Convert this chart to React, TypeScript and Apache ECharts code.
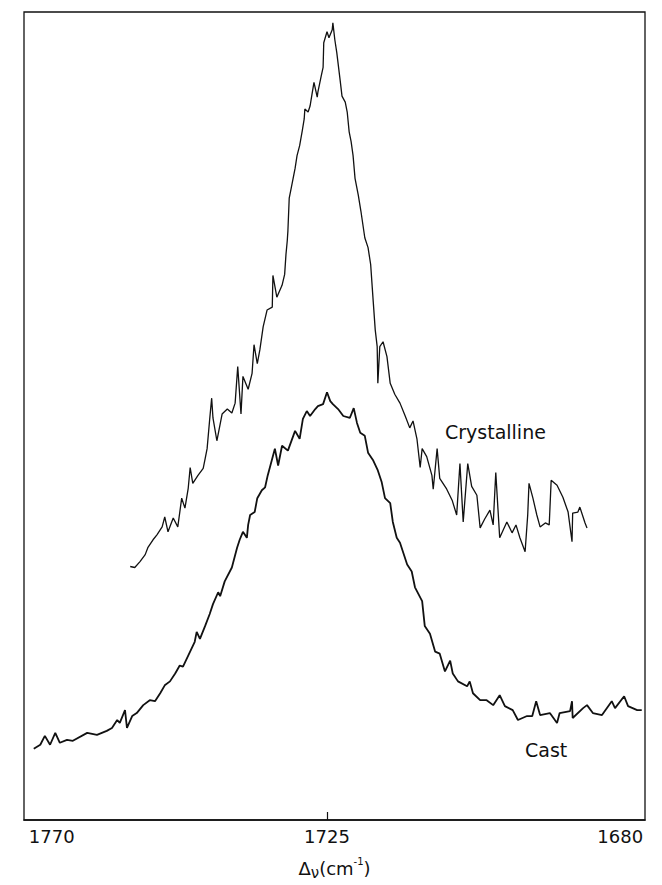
import React, { useEffect, useRef } from "react";
import * as echarts from "echarts";

// Wavenumber (cm^-1) and relative intensity (arbitrary units)
const castWavenumber = [
  1770.0, 1769.0, 1768.3, 1767.5, 1766.7, 1766.0, 1764.9, 1764.0, 1761.8, 1760.3,
  1758.8, 1758.0, 1757.2, 1756.8, 1756.0, 1755.7, 1754.9, 1754.2, 1753.2, 1752.2,
  1751.4, 1750.6, 1749.9, 1749.1, 1748.3, 1747.6, 1747.1, 1746.3, 1745.3, 1745.0,
  1744.5, 1743.7, 1743.0, 1742.5, 1741.7, 1741.4, 1740.7, 1739.6, 1738.8, 1738.4,
  1737.9, 1737.3, 1737.1, 1736.8, 1736.1, 1735.7, 1735.0, 1734.5, 1734.1, 1733.4,
  1733.0, 1732.5, 1731.9, 1731.0, 1729.9, 1729.2, 1728.7, 1728.1, 1727.6, 1726.8,
  1726.4, 1725.6, 1725.0, 1724.5, 1724.1, 1723.3, 1722.5, 1721.5, 1720.9, 1720.4,
  1719.9, 1719.2, 1718.7, 1717.9, 1717.2, 1716.6, 1716.1, 1715.3, 1714.9, 1714.3,
  1713.8, 1712.7, 1712.0, 1711.5, 1710.4, 1710.0, 1709.2, 1708.4, 1707.7, 1706.9,
  1706.1, 1705.7, 1704.9, 1703.5, 1703.1, 1702.6, 1701.5, 1700.5, 1699.5, 1698.5,
  1697.7, 1696.5, 1695.7, 1694.3, 1693.5, 1692.9, 1692.3, 1690.8, 1689.7, 1689.3,
  1687.7, 1687.4, 1687.3, 1685.7, 1685.1, 1684.2, 1682.8, 1681.3, 1680.8, 1679.4,
  1678.8, 1677.4, 1676.7,
];
const castIntensity = [
  72, 76, 85, 76, 88, 78, 81, 80, 88, 86,
  90, 93, 101, 98, 111, 93, 105, 108, 116, 121,
  120, 128, 136, 140, 148, 156, 155, 166, 180, 190,
  183, 196, 208, 218, 230, 226, 241, 255, 275, 283,
  291, 285, 298, 308, 311, 325, 333, 336, 348, 365,
  375, 358, 378, 373, 393, 385, 405, 413, 408, 415,
  418, 420, 432, 423, 420, 415, 408, 406, 416, 401,
  391, 388, 371, 363, 353, 341, 325, 320, 301, 285,
  280, 258, 251, 235, 221, 196, 188, 170, 168, 150,
  161, 148, 140, 135, 140, 128, 121, 121, 116, 126,
  115, 111, 101, 105, 105, 120, 106, 108, 98, 108,
  110, 120, 103, 113, 116, 108, 106, 120, 113, 125,
  115, 111, 111,
];

const crystWavenumber = [
  1755.2, 1754.5, 1753.7, 1752.9, 1752.5, 1751.7, 1751.1, 1750.3, 1749.9, 1749.4,
  1748.6, 1747.9, 1747.3, 1746.8, 1746.3, 1746.0, 1745.6, 1744.8, 1744.0, 1743.7,
  1743.4, 1743.0, 1742.7, 1742.5, 1741.9, 1741.1, 1740.3, 1739.6, 1739.1, 1738.7,
  1738.2, 1737.9, 1737.1, 1736.5, 1736.2, 1735.7, 1735.3, 1734.8, 1734.2, 1733.4,
  1733.3, 1732.7, 1731.9, 1731.5, 1731.3, 1731.1, 1731.0, 1730.8, 1730.5, 1730.2,
  1729.9, 1729.6, 1729.2, 1728.8, 1728.5, 1728.4, 1727.9, 1727.6, 1727.3, 1727.0,
  1726.5, 1726.4, 1725.9, 1725.6, 1725.5, 1725.0, 1724.7, 1724.2, 1724.1, 1723.8,
  1723.5, 1723.0, 1722.7, 1722.2, 1721.9, 1721.6, 1721.3, 1721.0, 1720.7, 1720.2,
  1719.8, 1719.2, 1718.7, 1718.3, 1717.9, 1717.6, 1717.3, 1717.2, 1716.9, 1716.4,
  1715.8, 1715.3, 1714.6, 1713.8, 1713.0, 1712.3, 1711.8, 1711.2, 1710.7, 1710.4,
  1709.7, 1708.9, 1708.7, 1708.1, 1707.7, 1706.7, 1705.8, 1705.1, 1704.6, 1704.1,
  1703.4, 1702.8, 1702.0, 1701.5, 1700.8, 1700.0, 1699.5, 1699.1, 1698.5, 1697.4,
  1696.6, 1696.0, 1695.4, 1694.6, 1694.2, 1694.0, 1693.4, 1692.8, 1692.3, 1691.5,
  1690.9, 1690.6, 1689.7, 1688.8, 1688.0, 1687.4, 1687.3, 1686.5, 1686.2, 1685.4,
  1685.1,
];
const crystIntensity = [
  256, 255, 261, 268, 275, 283, 288, 296, 306, 291,
  305, 296, 325, 315, 335, 356, 340, 348, 355, 365,
  375, 405, 426, 406, 383, 410, 415, 411, 421, 458,
  410, 448, 435, 451, 480, 461, 475, 498, 515, 518,
  550, 528, 540, 551, 571, 585, 595, 628, 638, 648,
  658, 671, 681, 696, 708, 718, 715, 721, 733, 745,
  730, 735, 751, 760, 785, 796, 790, 798, 805, 788,
  775, 748, 731, 725, 715, 695, 685, 671, 648, 631,
  615, 588, 578, 561, 523, 495, 478, 441, 478, 483,
  468, 441, 430, 421, 408, 396, 403, 385, 356, 375,
  367, 348, 334, 375, 345, 335, 323, 308, 360, 301,
  360, 337, 328, 295, 304, 313, 298, 351, 285, 301,
  290, 298, 285, 271, 308, 340, 325, 308, 296, 300,
  298, 343, 338, 326, 311, 281, 310, 311, 316, 300,
  295,
];

const tickLabels = [1770, 1725, 1680];
const tickMarks = [1725];
const seriesNames = ["Crystalline", "Cast"];

const FONT = "DejaVu Sans";

export default function App() {
  const ref = useRef<HTMLDivElement>(null);
  useEffect(() => {
    if (!ref.current) return;
    const chart = echarts.init(ref.current, undefined, { renderer: "svg" });
    const cast = castWavenumber.map((w, i) => [w, castIntensity[i]]);
    const cryst = crystWavenumber.map((w, i) => [w, crystIntensity[i]]);
    chart.setOption({
      animation: false,
      backgroundColor: "#ffffff",
      grid: {
        left: 24,
        right: 17,
        top: 12,
        bottom: 57,
        show: true,
        borderColor: "#111",
        borderWidth: 1.3,
        backgroundColor: "transparent",
      },
      xAxis: {
        type: "value",
        inverse: true,
        min: 1676.2,
        max: 1771.5,
        splitLine: { show: false },
        axisLine: { show: true, lineStyle: { color: "#111", width: 1.5 } },
        axisTick: {
          show: true,
          inside: true,
          length: 8,
          customValues: tickMarks,
          lineStyle: { color: "#111", width: 1.2 },
        },
        axisLabel: {
          customValues: tickLabels,
          color: "#111",
          fontFamily: FONT,
          fontSize: 18,
          margin: 7,
          formatter: (v: number) => (v === 1770 ? "{l|" + v + "}" : "{n|" + v + "}"),
          rich: {
            l: { padding: [0, 0, 0, 36], fontFamily: FONT, fontSize: 18, color: "#111" },
            n: { fontFamily: FONT, fontSize: 18, color: "#111" },
          },
        },
        name: "{a|Δ}{b|ν}{a|(cm}{s|-1}{a|)}",
        nameLocation: "middle",
        nameGap: 36,
        nameTextStyle: {
          rich: {
            a: { fontFamily: FONT, fontSize: 18, color: "#111", lineHeight: 24 },
            b: { fontFamily: FONT, fontSize: 15, color: "#111", verticalAlign: "bottom", padding: [7, 0, 0, 0] },
            s: { fontFamily: FONT, fontSize: 10, color: "#111", verticalAlign: "top", padding: [0, 0, 9, 0] },
          },
        },
      },
      yAxis: {
        type: "value",
        min: 0,
        max: 816,
        show: false,
      },
      series: [
        {
          name: seriesNames[0],
          type: "line",
          data: cryst,
          showSymbol: false,
          lineStyle: { color: "#111", width: 1.3 },
          z: 3,
        },
        {
          name: seriesNames[1],
          type: "line",
          data: cast,
          showSymbol: false,
          lineStyle: { color: "#111", width: 1.8 },
          z: 3,
        },
      ],
      graphic: [
        {
          type: "text",
          left: 445,
          top: 422,
          style: { text: seriesNames[0], fontFamily: FONT, fontSize: 19, fill: "#111" },
        },
        {
          type: "text",
          left: 525,
          top: 740,
          style: { text: seriesNames[1], fontFamily: FONT, fontSize: 19, fill: "#111" },
        },
      ],
    });
    return () => chart.dispose();
  }, []);
  return (
    <div
      ref={ref}
      style={{ position: "fixed", left: 0, top: 0, width: 662, height: 885, background: "#fff" }}
    />
  );
}
